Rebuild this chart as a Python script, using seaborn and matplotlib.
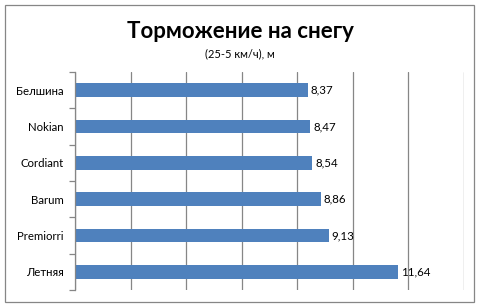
import matplotlib
matplotlib.use("Agg")
import matplotlib.pyplot as plt
import seaborn as sns
import pandas as pd
from matplotlib.patches import Rectangle

categories = ["Белшина", "Nokian", "Cordiant", "Barum", "Premiorri", "Летняя"]
values = [8.37, 8.47, 8.54, 8.86, 9.13, 11.64]
value_labels = ["8,37", "8,47", "8,54", "8,86", "9,13", "11,64"]
title = "Торможение на снегу"
subtitle = "(25-5 км/ч), м"

sns.set_theme(style="white")
plt.rcParams["font.family"] = ["Lato", "DejaVu Sans"]

df = pd.DataFrame({"cat": categories, "val": values})

fig = plt.figure(figsize=(4.8, 3.07), dpi=100)
ax = fig.add_axes([75/480, 17/307, 389/480, 218/307])

sns.barplot(data=df, x="val", y="cat", orient="h", color="#4F81BD",
            saturation=1, width=0.38, linewidth=0, ax=ax)

ax.set_xlim(0, 14)
ax.set_xticks(range(0, 15, 2))
ax.set_xticklabels([])
ax.tick_params(axis="x", length=0)
ax.grid(axis="x", color="#868686", linewidth=0.9)
ax.set_axisbelow(True)
ax.set_xlabel("")
ax.set_ylabel("")

ax.set_ylim(len(categories) - 0.5, -0.5)
ax.set_yticks([i - 0.5 for i in range(len(categories) + 1)], minor=False)
ax.set_yticklabels([])
ax.set_yticks(range(len(categories)), minor=True)
ax.set_yticklabels(categories, minor=True, fontsize=8.2, color="black")
ax.tick_params(axis="y", which="major", length=4, width=0.9, color="#868686", direction="out", left=True)
ax.tick_params(axis="y", which="minor", length=0, pad=8)

for s in ["top", "right", "bottom"]:
    ax.spines[s].set_visible(False)
ax.spines["left"].set_color("#868686")
ax.spines["left"].set_linewidth(0.9)

for i, (v, lab) in enumerate(zip(values, value_labels)):
    ax.text(v + 0.1, i, lab, va="center", ha="left", fontsize=8.3, color="black")

fig.text(0.5, 1 - 31/307, title, ha="center", va="center", fontsize=16, fontweight="bold", color="black")
fig.text(0.5, 1 - 54/307, subtitle, ha="center", va="center", fontsize=8, color="black")

fig.patches.append(Rectangle((5/480, 5/307), 469/480, 297/307, transform=fig.transFigure,
                             fill=False, edgecolor="#868686", linewidth=0.9))

fig.savefig("out.png", dpi=100)
